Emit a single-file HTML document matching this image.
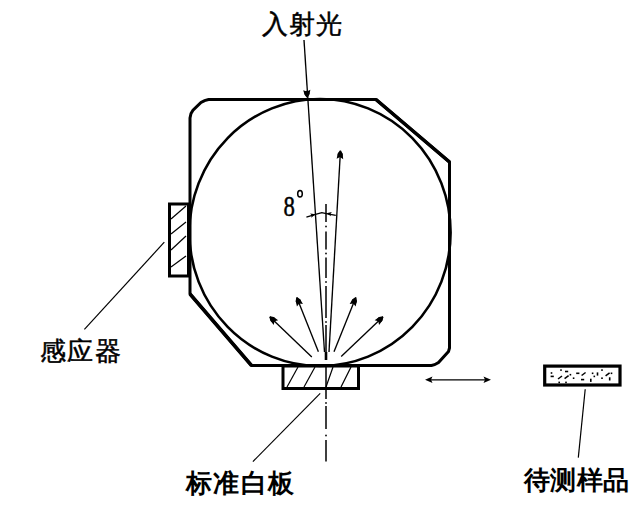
<!DOCTYPE html>
<html><head><meta charset="utf-8">
<style>
html,body{margin:0;padding:0;background:#fff;width:643px;height:510px;overflow:hidden}
svg{position:absolute;left:0;top:0}
.t{position:absolute;font-family:"Liberation Sans",sans-serif;font-size:26px;line-height:1;color:#000;white-space:nowrap}
</style></head><body>
<svg width="643" height="510" viewBox="0 0 643 510">
<g fill="none" stroke="#000" stroke-linejoin="miter">
<path d="M190,118 L191,113.5 L193,110.3 L201,102.5 L204.6,100.6 L208.5,99.5 L376,99.5 L449.5,162 L449.5,348 L448.5,351.5 L438.5,362.5 L434.5,364.7 L431.5,365.5 L251.5,365.5 L190,294 Z" stroke-width="3"/>
<path d="M376,99.5 L449.5,162 M251.5,365.5 L190,294" stroke-width="3.5"/>
<ellipse cx="320" cy="232.5" rx="130.6" ry="133.5" stroke-width="2.6"/>
<rect x="169.5" y="204" width="19" height="72" stroke-width="3"/>
<g stroke-width="1.2">
<path d="M171,219 L186,206"/><path d="M171,234 L186,222"/><path d="M171,250 L186,236"/><path d="M171,267 L186,256"/>
</g>
<rect x="283" y="366" width="75.5" height="22.5" stroke-width="3"/>
<g stroke-width="1.2">
<path d="M287,387 L298,367"/><path d="M304,387 L315,367"/><path d="M326,387 L333,367"/><path d="M341,387 L351,367"/>
</g>
<rect x="544.7" y="366.1" width="75.3" height="18.9" stroke-width="3.2"/>
<g stroke-width="1.2">
<path d="M164.3,242.2 L84.4,329.3"/>
<path d="M320.2,393.3 L252.9,461.6"/>
<path d="M585.2,389.2 L578.3,457.6"/>
</g>
<g stroke-width="1.35">
<path d="M304,40 L324.5,352"/>
<path d="M329,352 L340.4,152"/>
<path d="M311.8,357.0 L269.8,316.7"/><path d="M318.4,351.8 L296.8,297.4"/><path d="M334.0,351.8 L355.8,297.4"/><path d="M341.2,356.5 L383.0,316.7"/>
<path d="M430,379.8 L486,379.8"/>
</g>
<path d="M326,204.0 L326,222.0 M326,231.5 L326,249.5 M326,257.5 L326,278.0 M326,286.0 L326,318.0 M326,325.0 L326,352.0 M326,366.0 L326,399.0 M326,406.0 L326,429.0 M326,440.0 L326,461.5" stroke-width="1.5"/><path d="M326,352 L326,360" stroke-width="2.6"/>
<path d="M306.4,217.1 L315.5,214.3 L321.8,212.6 L326.3,213.6 L335.8,215.4" stroke-width="1.3"/>
<ellipse cx="300" cy="193.7" rx="2.3" ry="3.3" stroke-width="1.5"/>
</g>
<g fill="#000">
<path d="M306.60,97.53 L304.64,94.64 L303.19,90.21 L306.87,91.51 L310.38,89.81 L309.43,94.37 L307.80,97.47 Z"/><circle cx="306.97" cy="93.31" r="2.5"/>
<path d="M341.00,150.53 L342.63,153.63 L343.21,159.17 L340.03,156.99 L336.63,158.80 L337.83,153.36 L339.80,150.47 Z"/><circle cx="340.16" cy="154.69" r="2.5"/>
<path d="M270.22,316.27 L273.63,317.05 L278.15,320.28 L274.49,321.20 L273.72,324.89 L270.30,320.51 L269.38,317.13 Z"/><circle cx="272.83" cy="319.61" r="2.5"/>
<path d="M297.36,297.18 L300.14,299.30 L302.91,304.12 L299.20,303.44 L296.96,306.48 L295.68,301.07 L296.24,297.62 Z"/><circle cx="298.35" cy="301.30" r="2.5"/>
<path d="M356.36,297.62 L356.91,301.08 L355.61,306.48 L353.38,303.43 L349.67,304.10 L352.46,299.29 L355.24,297.18 Z"/><circle cx="354.24" cy="301.30" r="2.5"/>
<path d="M383.41,317.13 L382.48,320.51 L379.05,324.88 L378.29,321.18 L374.64,320.24 L379.17,317.03 L382.59,316.27 Z"/><circle cx="379.96" cy="319.60" r="2.5"/>
<path d="M425.00,379.80 L432.50,376.50 L431.00,379.80 L432.50,383.10 Z"/>
<path d="M491.00,379.80 L483.50,383.10 L485.00,379.80 L483.50,376.50 Z"/>
<path d="M315.50,214.30 L311.21,217.68 L311.63,215.30 L310.11,213.42 Z"/>
<path d="M326.50,213.20 L331.83,212.02 L330.42,213.98 L330.97,216.34 Z"/>
<rect x="550.7" y="372.2" width="1.6" height="1.6"/><rect x="550.6" y="375.6" width="3.2" height="1.6"/><rect x="560.2" y="369.3" width="1.6" height="1.6"/><path d="M558.0,379.0 L562.0,376.0" stroke="#000" stroke-width="1.5"/><rect x="558.4" y="381.6" width="1.6" height="1.6"/><rect x="565.2" y="381.6" width="1.6" height="1.6"/><rect x="565.0" y="370.7" width="3.2" height="1.6"/><path d="M564.6,378.6 L568.6,375.6" stroke="#000" stroke-width="1.5"/><rect x="569.6" y="373.9" width="1.6" height="1.6"/><rect x="572.8" y="377.4" width="1.6" height="1.6"/><rect x="576.2" y="372.5" width="3.2" height="1.6"/><path d="M581.6,375.5 L585.6,372.5" stroke="#000" stroke-width="1.5"/><rect x="581.0" y="378.8" width="3.2" height="1.6"/><rect x="591.8" y="372.5" width="1.6" height="1.6"/><rect x="593.5" y="375.6" width="1.6" height="1.6"/><rect x="596.7" y="372.4" width="1.6" height="3.2"/><rect x="590.0" y="378.7" width="1.6" height="3.2"/><rect x="601.2" y="369.3" width="1.6" height="1.6"/><rect x="601.2" y="377.4" width="1.6" height="1.6"/><path d="M605.6,375.8 L609.6,372.8" stroke="#000" stroke-width="1.5"/><rect x="610.7" y="372.5" width="1.6" height="1.6"/><rect x="608.9" y="377.3" width="1.6" height="3.2"/>
<rect x="325.2" y="225.7" width="1.6" height="1.6"/><rect x="325.2" y="252.7" width="1.6" height="1.6"/><rect x="325.2" y="281.2" width="1.6" height="1.6"/><rect x="325.2" y="321.2" width="1.6" height="1.6"/><rect x="325.2" y="402.2" width="1.6" height="1.6"/><rect x="325.2" y="434.7" width="1.6" height="1.6"/>
</g>
<text x="0" y="0" font-family="Liberation Serif" font-size="28.5" fill="#000" stroke="#000" stroke-width="0.5" transform="translate(283.6,216.4) scale(0.8,1)">8</text>
</svg>
<div class="t" style="left:262px;top:11px;letter-spacing:0.9px;-webkit-text-stroke:0.5px #000">入射光</div>
<div class="t" style="left:40px;top:337.5px;letter-spacing:1.3px;-webkit-text-stroke:0.5px #000">感应器</div>
<div class="t" style="left:186px;top:470px;letter-spacing:1.3px;font-weight:bold">标准白板</div>
<div class="t" style="left:524px;top:467px;letter-spacing:0.3px;font-weight:bold">待测样品</div>
</body></html>
